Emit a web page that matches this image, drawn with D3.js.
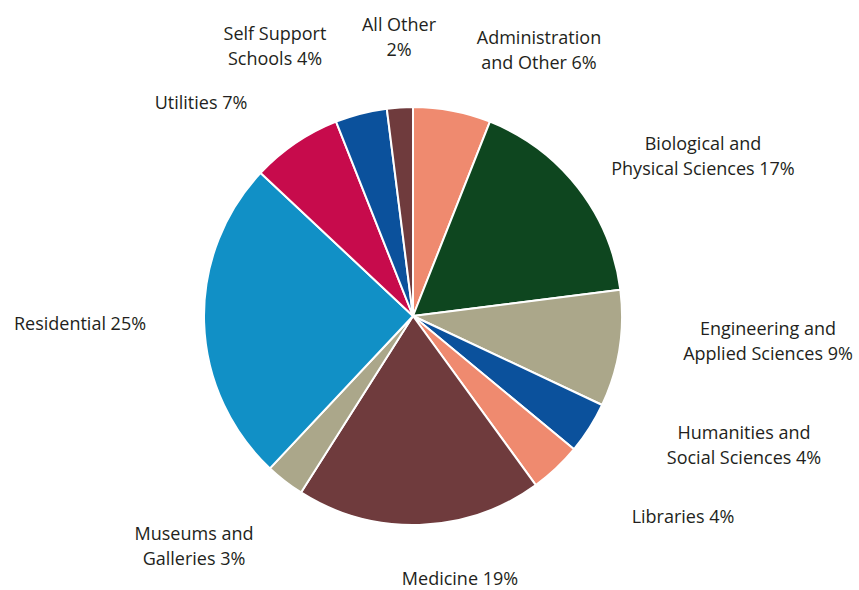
<!DOCTYPE html>
<html>
<head>
<meta charset="utf-8">
<script src="https://cdn.jsdelivr.net/npm/d3@7"></script>
<style>
  html, body { margin: 0; padding: 0; background: #fff; }
  svg { display: block; }
  .lbl { font-family: "Liberation Sans Narrow", "Open Sans", sans-serif; font-size: 18px; fill: #231f20; }
</style>
</head>
<body>
<svg id="chart" width="859" height="590"></svg>
<script>
// Share of spending by unit, clockwise from 12 o'clock
const categories = [
  "Administration and Other",
  "Biological and Physical Sciences",
  "Engineering and Applied Sciences",
  "Humanities and Social Sciences",
  "Libraries",
  "Medicine",
  "Museums and Galleries",
  "Residential",
  "Utilities",
  "Self Support Schools",
  "All Other"
];
const values = [6, 17, 9, 4, 4, 19, 3, 25, 7, 4, 2];

// Label text, split into lines
const labelLines = [
  ["Administration", "and Other 6%"],
  ["Biological and", "Physical Sciences 17%"],
  ["Engineering and", "Applied Sciences 9%"],
  ["Humanities and", "Social Sciences 4%"],
  ["Libraries 4%"],
  ["Medicine 19%"],
  ["Museums and", "Galleries 3%"],
  ["Residential 25%"],
  ["Utilities 7%"],
  ["Self Support", "Schools 4%"],
  ["All Other", "2%"]
];

// Slice fills
const palette = {
  salmon: "#ef8a6f",
  green: "#0e461f",
  khaki: "#aba78a",
  blue: "#0b519c",
  brown: "#6f3b3d",
  sky: "#1190c6",
  crimson: "#c70b4c"
};
const sliceColors = [
  palette.salmon, palette.green, palette.khaki, palette.blue, palette.salmon,
  palette.brown, palette.khaki, palette.sky, palette.crimson, palette.blue, palette.brown
];

// Label anchors (centre of the text block's first line)
const labelPos = [
  [539, 37], [703, 143], [768, 328], [744, 432], [683, 516],
  [460, 578], [194, 533], [80, 323], [201, 102], [275, 33], [399, 24]
];

const svg = d3.select("#chart");
const cx = 413, cy = 316, radius = 209;

const pie = d3.pie().sort(null).value(d => d.value);
const arc = d3.arc().innerRadius(0).outerRadius(radius);

const data = categories.map((c, i) => ({ name: c, value: values[i], color: sliceColors[i] }));

const g = svg.append("g").attr("transform", `translate(${cx},${cy})`);
g.selectAll("path")
  .data(pie(data))
  .join("path")
  .attr("d", arc)
  .attr("fill", d => d.data.color)
  .attr("stroke", "#ffffff")
  .attr("stroke-width", 2)
  .attr("stroke-linejoin", "round");

const lineGap = 25;
const labels = svg.append("g");
labelLines.forEach((lines, i) => {
  const t = labels.append("text")
    .attr("class", "lbl")
    .attr("text-anchor", "middle")
    .attr("x", labelPos[i][0])
    .attr("y", labelPos[i][1])
    .attr("dominant-baseline", "central");
  lines.forEach((ln, j) => {
    t.append("tspan")
      .attr("x", labelPos[i][0])
      .attr("dy", j === 0 ? 0 : lineGap)
      .text(ln);
  });
});
</script>
</body>
</html>
